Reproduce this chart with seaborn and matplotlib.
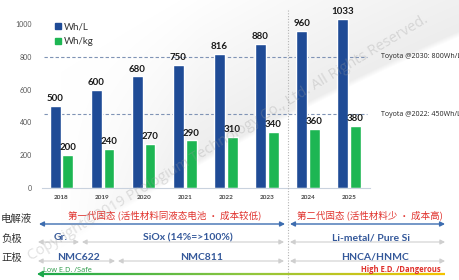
import matplotlib
matplotlib.use("Agg")
import matplotlib.pyplot as plt
import seaborn as sns
import pandas as pd
import numpy as np
from matplotlib.lines import Line2D
from matplotlib.patches import FancyArrowPatch
from matplotlib.collections import LineCollection

# ---- data ----
years = ["2018", "2019", "2020", "2021", "2022", "2023", "2024", "2025"]
wh_l = [500, 600, 680, 750, 816, 880, 960, 1033]
wh_kg = [200, 240, 270, 290, 310, 340, 360, 380]
series_names = ["Wh/L", "Wh/kg"]
y_ticks = [0, 200, 400, 600, 800, 1000]
targets = [800, 450]
target_labels = ["Toyota @2030: 800Wh/L", "Toyota @2022: 450Wh/L"]

row_names = ["电解液", "负极", "正极"]
gen_labels = ["第一代固态 (活性材料同液态电池 · 成本较低)", "第二代固态 (活性材料少 · 成本高)"]
anode_labels = ["Gr.", "SiOx (14%=>100%)", "Li-metal/ Pure Si"]
cathode_labels = ["NMC622", "NMC811", "HNCA/HNMC"]
ed_labels = ["Low E.D. /Safe", "High E.D. /Dangerous"]
watermark = "Copyright\u00a92019 Prologium Technology Co., Ltd. All Rights Reserved."

BLUE = "#1f4b96"
GREEN = "#1db653"

df = pd.DataFrame({
    "year": years * 2,
    "value": wh_l + wh_kg,
    "metric": [series_names[0]] * len(years) + [series_names[1]] * len(years),
})

sns.set_theme(style="white")
plt.rcParams["font.family"] = ["Lato", "DejaVu Sans"]

W, H = 460, 280
fig = plt.figure(figsize=(W / 100, H / 100), dpi=100)
fig.patch.set_facecolor("white")

def fx(x):
    return x / W

def fy(y):
    return 1 - y / H

# soft grey background swoosh
bg = fig.add_axes([0, 0, 1, 1], zorder=-10)
bg.set_axis_off()
yy, xx = np.mgrid[0:H, 0:W]
cx = np.array([120.0, 300.0, 460.0])
cy = np.array([205.0, 105.0, 30.0])
coef = np.polyfit(cx, cy, 2)
curve = np.polyval(coef, xx)
d = curve - yy  # positive above the curve
shade = np.where(d > 0, np.clip(1 - d / 170.0, 0, 1), np.clip(1 + d / 6.0, 0, 1))
shade *= np.clip((xx - 60) / 140.0, 0, 1)
img = 1 - 0.07 * shade
bg.imshow(np.dstack([img, img, img]), extent=[0, 1, 0, 1], aspect="auto", origin="upper")
bg.set_xlim(0, 1)
bg.set_ylim(0, 1)

ax = fig.add_axes([fx(42), fy(188), 328 / W, 180 / H])
ax.set_facecolor("none")

sns.barplot(data=df, x="year", y="value", hue="metric", palette=[BLUE, GREEN],
            width=0.62, gap=0.15, ax=ax, legend=False, saturation=1)

for cont in ax.containers:
    ax.bar_label(cont, fontsize=7, fontweight="bold", color="#1a1a1a", padding=2)

ax.set_xlim(-0.475, 7.51)
ax.set_ylim(0, 180 / 0.164)
ax.set_yticks(y_ticks)
ax.set_yticklabels([str(t) for t in y_ticks])
ax.tick_params(axis="y", labelsize=5, colors="#555555", length=0, pad=7)
ax.tick_params(axis="x", labelsize=4.6, colors="#444444", length=0, pad=5)
for lbl in ax.get_xticklabels():
    lbl.set_fontweight("bold")
ax.set_xlabel("")
ax.set_ylabel("")
for s in ["top", "right", "left"]:
    ax.spines[s].set_visible(False)
ax.spines["bottom"].set_color("#c9d2de")
ax.spines["bottom"].set_linewidth(0.8)

for t in targets:
    ax.axhline(t, xmin=0.006, xmax=0.99, color="#7f93b5", lw=0.8, ls=(0, (3, 2)), zorder=0.5)
for t, lab in zip(targets, target_labels):
    fig.text(fx(381), fy(188 - t * 0.164), lab, fontsize=5.0, color="#222222",
             ha="left", va="center", family=["Open Sans", "DejaVu Sans"])

handles = [Line2D([], [], marker="s", ls="", color=BLUE, markersize=4),
           Line2D([], [], marker="s", ls="", color=GREEN, markersize=4)]
ax.legend(handles, series_names, loc="upper left", bbox_to_anchor=(fx(50), fy(18)),
          bbox_transform=fig.transFigure, frameon=False, fontsize=7,
          handlelength=0.6, handletextpad=0.3, labelspacing=0.55, borderpad=0,
          labelcolor="#333333")

# vertical dotted divider
fig.add_artist(Line2D([fx(288), fx(288)], [fy(10), fy(280)], transform=fig.transFigure,
                      color="#b5b5b5", lw=0.8, ls=(0, (1, 1.5))))

CJK = ["Noto Sans CJK SC", "DejaVu Sans"]

def arrow(x1, x2, y, color, lw=1.0, style="<|-|>,head_length=0.35,head_width=0.18"):
    fig.add_artist(FancyArrowPatch((fx(x1), fy(y)), (fx(x2), fy(y)), transform=fig.transFigure,
                                   arrowstyle=style, mutation_scale=8, color=color, lw=lw,
                                   shrinkA=0, shrinkB=0))

# row labels (left)
for name, y in zip(row_names, [219, 239, 258]):
    fig.text(fx(1), fy(y), name, fontsize=7.5, color="#333333", ha="left", va="center", family=CJK)

# row 1: generations
RED = "#e0312c"
fig.text(fx(165), fy(215), gen_labels[0], fontsize=6.8, color=RED, ha="center", va="center", family=CJK)
fig.text(fx(370), fy(215), gen_labels[1], fontsize=6.8, color=RED, ha="center", va="center", family=CJK)
arrow(39, 285, 224, "#3d6db0")
arrow(290, 445, 224, "#3d6db0")

# row 2 / row 3
TBLUE = "#34589a"
GRAY = "#cfcfcf"
for labs, xs, ty, ay, arrs in [
    (anode_labels, [61, 188, 371], 238, 242, [(38, 79), (82, 284), (290, 445)]),
    (cathode_labels, [79, 202, 375], 257, 261, [(38, 115), (118, 284), (290, 445)]),
]:
    for (a1, a2) in arrs:
        arrow(a1, a2, ay, GRAY, lw=0.8)
    for lab, x in zip(labs, xs):
        fig.text(fx(x), fy(ty), lab, fontsize=7.5, fontweight="bold", color=TBLUE,
                 ha="center", va="center")

# row 4: energy density gradient arrow
xs = np.linspace(40, 445, 120)
pts = np.array([[fx(x), fy(274)] for x in xs])
segs = np.stack([pts[:-1], pts[1:]], axis=1)
cmap = matplotlib.colors.LinearSegmentedColormap.from_list("gy", ["#1aa84a", "#8cc63f", "#f4c300"])
lc = LineCollection(segs, colors=cmap(np.linspace(0, 1, len(segs))), lw=1.6, transform=fig.transFigure)
fig.add_artist(lc)
fig.add_artist(FancyArrowPatch((fx(50), fy(274)), (fx(37), fy(274)), transform=fig.transFigure,
                               arrowstyle="-|>,head_length=0.4,head_width=0.22", mutation_scale=8,
                               color="#1aa84a", lw=1.2, shrinkA=0, shrinkB=0))
fig.text(fx(43), fy(270), ed_labels[0], fontsize=5.3, color="#2a9a47", ha="left", va="center",
         family=["Open Sans", "DejaVu Sans"])
fig.text(fx(401), fy(270), ed_labels[1], fontsize=5.5, fontweight="bold", color=RED, ha="center",
         va="center", family=["Open Sans", "DejaVu Sans"])

# watermark
fig.text(fx(228), fy(138), watermark, fontsize=10.5, color="#9a9a9a", alpha=0.3, rotation=31,
         ha="center", va="center", family=["Open Sans", "DejaVu Sans"], zorder=10)

fig.savefig("out.png", dpi=100, facecolor="white")
